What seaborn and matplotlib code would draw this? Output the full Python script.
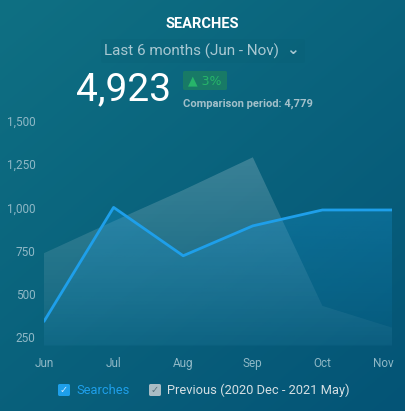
import numpy as np
import pandas as pd
import matplotlib
matplotlib.use("Agg")
import matplotlib.pyplot as plt
import seaborn as sns
import matplotlib.transforms as mtrans
from matplotlib.patches import FancyBboxPatch, Polygon

months = ["Jun", "Jul", "Aug", "Sep", "Oct", "Nov"]
searches = [340, 1000, 720, 893, 985, 985]
previous = [735, 920, 1100, 1290, 430, 304]
y_ticks = [250, 500, 750, 1000, 1250, 1500]
y_tick_labels = ["250", "500", "750", "1,000", "1,250", "1,500"]

sns.set_theme(style="white")
plt.rcParams['font.family'] = ['Roboto', 'DejaVu Sans']

W, H = 405, 411
fig = plt.figure(figsize=(W / 100, H / 100), dpi=100)

# background gradient
bg = fig.add_axes([0, 0, 1, 1], zorder=0)
bg.set_axis_off()
yy, xx = np.mgrid[0:1:200j, 0:1:200j]
t = np.clip(0.55 * yy + 0.45 * xx, 0, 1)
c0 = np.array([15, 112, 131]) / 255
c1 = np.array([4, 84, 118]) / 255
img = c0[None, None, :] * (1 - t[..., None]) + c1[None, None, :] * t[..., None]
bg.imshow(img, extent=[0, 1, 0, 1], aspect="auto", origin="upper")
bg.set_xlim(0, 1); bg.set_ylim(0, 1)

# dropdown box
bg.add_patch(FancyBboxPatch((101 / W, 1 - 63 / H), 204 / W, 24 / H,
                            boxstyle="round,pad=0,rounding_size=0.006",
                            fc=(0, 0, 0, 0.02), ec="none", transform=bg.transAxes))
# badge
bg.add_patch(FancyBboxPatch((183 / W, 1 - 90 / H), 44 / W, 19 / H,
                            boxstyle="round,pad=0,rounding_size=0.004",
                            fc="#187a66", ec="none", transform=bg.transAxes))

ax_bottom = 200
ax = fig.add_axes([44 / W, 1 - 345.6 / H, (392 - 44) / W, (345.6 - 121) / H], zorder=1)
ax.patch.set_alpha(0)

df = pd.DataFrame({"month": months, "x": np.arange(len(months)),
                   "Searches": searches, "Previous": previous})

xs = df["x"].values

def gradient_fill(ax, x, y, color, a_top, a_bot, z):
    poly = Polygon(np.column_stack([np.r_[x, x[::-1]], np.r_[y, np.full(len(x), ax_bottom)]]),
                   closed=True, fc="none", ec="none")
    ax.add_patch(poly)
    n = 256
    grad = np.zeros((n, 1, 4))
    rgb = matplotlib.colors.to_rgb(color)
    grad[..., :3] = rgb
    grad[:, 0, 3] = np.linspace(a_top, a_bot, n)
    im = ax.imshow(grad, extent=[x.min(), x.max(), ax_bottom, max(y)], origin="upper",
                   aspect="auto", zorder=z)
    im.set_clip_path(poly)

gradient_fill(ax, xs, df["Previous"].values, "#ffffff", 0.20, 0.03, 1)
gradient_fill(ax, xs, df["Searches"].values, "#1a9fe6", 0.26, 0.05, 2)

sns.lineplot(data=df, x="x", y="Searches", ax=ax, color="#1e9fea", linewidth=2, zorder=3)

ax.set_xlim(0, 5)
ax.set_ylim(ax_bottom, 1500)
ax.set_xticks(xs)
ax.set_xticklabels(months)
ax.set_yticks(y_ticks)
ax.set_yticklabels(y_tick_labels)
ax.tick_params(axis="both", colors="#8fb8c6", labelsize=8.5, length=0)
ax.tick_params(axis="y", pad=6)
ax.tick_params(axis="x", pad=8)
labs = ax.get_xticklabels()
labs[-1].set_horizontalalignment("right")
labs[-1].set_transform(labs[-1].get_transform() + mtrans.ScaledTranslation(0.02, 0, fig.dpi_scale_trans))
ax.set_xlabel("")
ax.set_ylabel("")
for s in ax.spines.values():
    s.set_visible(False)
ax.grid(False)

# texts
fig.text(202 / W, 1 - 24 / H, "SEARCHES", color="white", fontsize=10.5, fontweight="bold",
         ha="center", va="center")
fig.text(192 / W, 1 - 51 / H, "Last 6 months (Jun - Nov)", color="#a9c8d2", fontsize=11,
         ha="center", va="center")
fig.text(292 / W, 1 - 50 / H, "⌄", color="#a9c8d2", fontsize=11, ha="center", va="center",
         family=["DejaVu Sans"], fontweight="bold")
fig.text(76 / W, 1 - 90 / H, "4,923", color="white", fontsize=28, ha="left", va="center")
fig.text(205 / W, 1 - 81 / H, "▲ 3%", color="#27b56a", fontsize=9, ha="center", va="center",
         family=["DejaVu Sans"])
fig.text(183 / W, 1 - 104 / H, "Comparison period: 4,779", color="#a3c0ca", fontsize=8,
         fontweight="bold", ha="left", va="center")

# legend
bg.add_patch(FancyBboxPatch((58 / W, 1 - 396 / H), 12 / W, 12 / H,
                            boxstyle="round,pad=0,rounding_size=0.004",
                            fc="#1e9fea", ec="none", transform=bg.transAxes))
fig.text(64 / W, 1 - 390 / H, "✓", color="#cfe9ff", fontsize=7, ha="center", va="center",
         family=["DejaVu Sans"])
fig.text(76 / W, 1 - 390 / H, "Searches", color="#1e9fea", fontsize=9.3, ha="left", va="center")
bg.add_patch(FancyBboxPatch((149 / W, 1 - 396 / H), 12 / W, 12 / H,
                            boxstyle="round,pad=0,rounding_size=0.004",
                            fc="#a9bcc4", ec="none", transform=bg.transAxes))
fig.text(155 / W, 1 - 390 / H, "✓", color="#556f7a", fontsize=7, ha="center", va="center",
         family=["DejaVu Sans"])
fig.text(167 / W, 1 - 390 / H, "Previous (2020 Dec - 2021 May)", color="#d5dfe3", fontsize=9.3,
         ha="left", va="center")

fig.savefig("out.png", dpi=100)
